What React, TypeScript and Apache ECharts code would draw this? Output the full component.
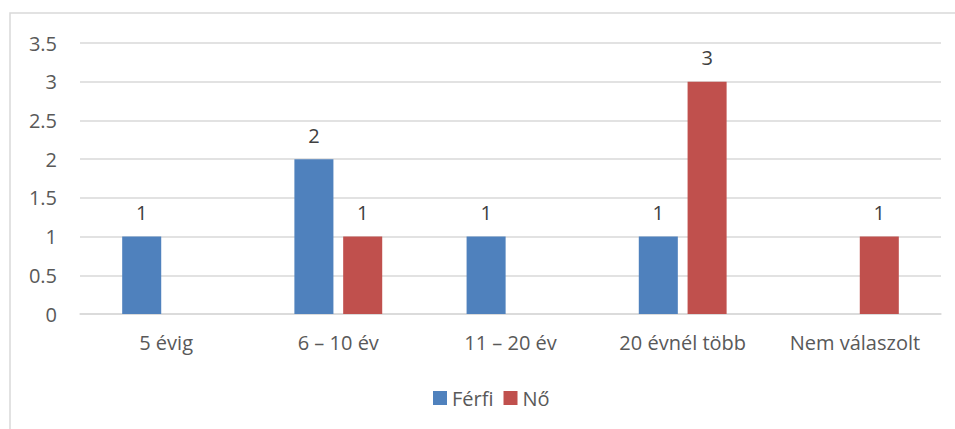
import React, { useEffect, useRef } from "react";
import * as echarts from "echarts";

const categories = ["5 évig", "6 – 10 év", "11 – 20 év", "20 évnél több", "Nem válaszolt"];
const ferfi: (number | null)[] = [1, 2, 1, 1, null];
const no: (number | null)[] = [null, 1, null, 3, 1];
const seriesNames = ["Férfi", "Nő"];

export default function App() {
  const ref = useRef<HTMLDivElement>(null);
  useEffect(() => {
    const chart = echarts.init(ref.current!, null, { renderer: "svg" });
    const font = "'Open Sans', 'Noto Sans', sans-serif";
    const label = {
      show: true,
      position: "top" as const,
      distance: 14,
      color: "#404040",
      fontSize: 20,
      fontFamily: font,
    };
    chart.setOption({
      animation: false,
      backgroundColor: "#ffffff",
      graphic: [
        {
          type: "rect",
          shape: { x: 10, y: 13, width: 960, height: 440 },
          style: { fill: "none", stroke: "#d9d9d9", lineWidth: 1.5 },
          silent: true,
        },
      ],
      grid: { left: 80, right: 14, top: 43, bottom: 115, containLabel: false },
      legend: {
        data: seriesNames,
        bottom: 16,
        left: 428,
        itemWidth: 14,
        itemHeight: 14,
        itemGap: 10,
        icon: "rect",
        textStyle: { color: "#595959", fontSize: 20, fontFamily: font },
      },
      xAxis: {
        type: "category",
        data: categories,
        axisLine: { show: true, lineStyle: { color: "#d9d9d9", width: 1.5 } },
        axisTick: { show: false },
        axisLabel: { color: "#595959", fontSize: 20, fontFamily: font, margin: 18 },
      },
      yAxis: {
        type: "value",
        min: 0,
        max: 3.5,
        interval: 0.5,
        axisLine: { show: false },
        axisTick: { show: false },
        splitLine: { lineStyle: { color: "#d9d9d9", width: 1.5 } },
        axisLabel: { color: "#595959", fontSize: 20, fontFamily: font, margin: 23 },
      },
      series: [
        {
          name: seriesNames[0],
          type: "bar",
          data: ferfi,
          itemStyle: { color: "#4f81bd" },
          barGap: "25%",
          barCategoryGap: "49%",
          label,
        },
        {
          name: seriesNames[1],
          type: "bar",
          data: no,
          itemStyle: { color: "#c0504d" },
          label,
        },
      ],
    });
    return () => chart.dispose();
  }, []);
  return (
    <div
      ref={ref}
      style={{ position: "fixed", left: 0, top: 0, width: 955, height: 429 }}
    />
  );
}
